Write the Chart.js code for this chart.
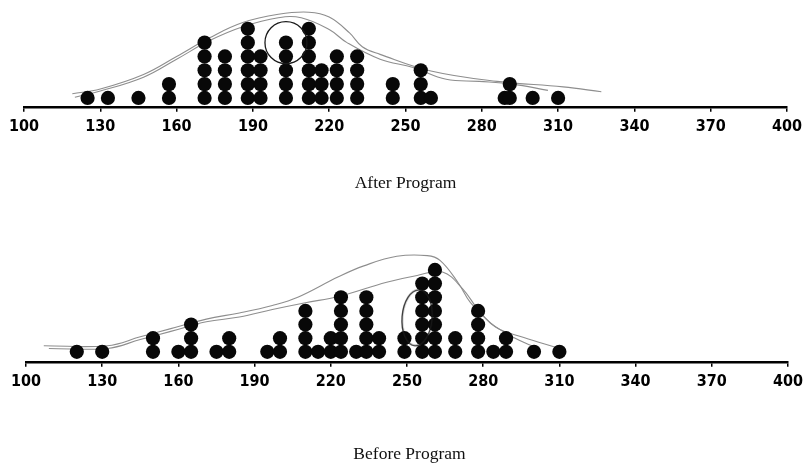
<!DOCTYPE html>
<html>
<head>
<meta charset="utf-8">
<script src="https://cdn.jsdelivr.net/npm/chart.js@4.4.1/dist/chart.umd.min.js"></script>
<style>
  html, body { margin: 0; padding: 0; background: #fff; }
  .panel { position: absolute; left: 0; width: 808px; }
  #topPanel { top: 0; height: 235px; }
  #bottomPanel { top: 235px; height: 232px; }
</style>
</head>
<body>
<div class="panel" id="topPanel"><canvas id="afterChart"></canvas></div>
<div class="panel" id="bottomPanel"><canvas id="beforeChart"></canvas></div>
<script>
const tickLabels = [100, 130, 160, 190, 220, 250, 280, 310, 340, 370, 400];

// one entry per student, repeated scores stack up
const afterScores = [
  125, 133, 145, 157, 157,
  171, 171, 171, 171, 171,
  179, 179, 179, 179,
  188, 188, 188, 188, 188, 188,
  193, 193, 193, 193,
  203, 203, 203, 203, 203,
  212, 212, 212, 212, 212, 212,
  217, 217, 217,
  223, 223, 223, 223,
  231, 231, 231, 231,
  245, 245,
  256, 256, 256, 260,
  289, 291, 291, 300, 310
];

const beforeScores = [
  120, 130, 150, 150, 160, 165, 165, 165,
  175, 180, 180, 195, 200, 200,
  210, 210, 210, 210, 215,
  220, 220, 224, 224, 224, 224, 224, 230,
  234, 234, 234, 234, 234, 239, 239,
  249, 249,
  256, 256, 256, 256, 256, 256,
  261, 261, 261, 261, 261, 261, 261,
  269, 269, 278, 278, 278, 278, 284, 289, 289, 300, 310
];

// hand drawn outlines, read as [score, stack height]
const afterOuterCurve = [
  [119, 0.3], [130, 0.65], [147, 1.7], [160, 3.0], [173, 4.35], [186, 5.45],
  [200, 6.05], [212, 6.2], [220, 5.85], [228, 4.7], [233, 3.7], [240, 3.15],
  [260, 1.95], [286, 1.2], [312, 0.8], [327, 0.45]
];
const afterInnerCurve = [
  [120, 0.05], [130, 0.5], [147, 1.5], [160, 2.8], [173, 4.15], [186, 5.15],
  [200, 5.8], [209, 5.8], [220, 4.95], [227, 4.0], [240, 2.8], [253, 2.2],
  [266, 1.35], [279, 1.2], [292, 1.0], [306, 0.55]
];
const beforeOuterCurve = [
  [107, 0.45], [132, 0.45], [145, 1.1], [157, 1.7], [171, 2.4], [184, 2.85],
  [197, 3.4], [207, 4.0], [223, 5.5], [233, 6.3], [246, 7.0], [258, 7.05],
  [263, 6.7], [270, 5.1], [275, 3.6], [283, 2.1], [292, 1.05], [301, 0.3]
];
const beforeInnerCurve = [
  [109, 0.25], [132, 0.25], [145, 0.9], [157, 1.5], [171, 2.2], [184, 2.55],
  [197, 3.1], [210, 3.6], [223, 4.05], [242, 5.1], [254, 5.6], [264, 5.85],
  [272, 4.6], [278, 3.1], [285, 1.8], [296, 1.05], [309, 0.3]
];

const afterCircledScore = 203;
const beforeOval = [254, 2.5];

function stack(scores) {
  const seen = {};
  return scores.map(v => {
    const k = seen[v] || 0;
    seen[v] = k + 1;
    return { x: v, y: k };
  });
}

function curveSet(pts) {
  return {
    type: 'line',
    data: pts.map(p => ({ x: p[0], y: p[1] })),
    borderColor: '#8e8e8e',
    borderWidth: 1.1,
    pointRadius: 0,
    tension: 0.4,
    fill: false,
    order: 2
  };
}

function ovalImage(w, h) {
  const c = document.createElement('canvas');
  c.width = w + 4;
  c.height = h + 4;
  const g = c.getContext('2d');
  g.strokeStyle = '#1a1a1a';
  g.lineWidth = 1.3;
  g.beginPath();
  g.ellipse(c.width / 2, c.height / 2, w / 2, h / 2, 0.08, 0, Math.PI * 2);
  g.stroke();
  return c;
}

function makeChart(id, opts) {
  const dots = stack(opts.scores);
  return new Chart(document.getElementById(id), {
    type: 'scatter',
    data: {
      datasets: [
        {
          data: dots,
          backgroundColor: '#080808',
          borderWidth: 0,
          pointRadius: 7.1,
          order: 1
        },
        ...opts.curves.map(curveSet),
        opts.mark
      ]
    },
    options: {
      responsive: true,
      maintainAspectRatio: false,
      animation: false,
      events: [],
      layout: { autoPadding: false, padding: opts.padding },
      plugins: {
        legend: { display: false },
        tooltip: { enabled: false },
        title: {
          display: true,
          position: 'bottom',
          text: opts.title,
          color: '#111',
          font: { family: "'Liberation Serif', 'Times New Roman', serif", size: 17.5, weight: 'normal' },
          padding: opts.titlePad
        }
      },
      scales: {
        x: {
          type: 'linear',
          min: 100,
          max: 400,
          afterBuildTicks: s => { s.ticks = tickLabels.map(v => ({ value: v })); },
          grid: { drawOnChartArea: false, drawTicks: true, tickLength: 5, color: '#000', lineWidth: 1.5 },
          border: { display: true, color: '#000', width: 2.5 },
          ticks: {
            color: '#000',
            padding: 5,
            maxRotation: 0,
            autoSkip: false,
            font: { family: "'Liberation Sans Narrow', 'Arial Narrow', 'DejaVu Sans Condensed', sans-serif", size: 16, weight: 'bold' }
          }
        },
        y: { display: false, min: opts.yMin, max: opts.yMax }
      }
    }
  });
}

const afterTop = stack(afterScores).filter(d => d.x === afterCircledScore).pop();

makeChart('afterChart', {
  scores: afterScores,
  curves: [afterOuterCurve, afterInnerCurve],
  mark: {
    data: [{ x: afterTop.x, y: afterTop.y }],
    pointRadius: 21,
    backgroundColor: 'rgba(0,0,0,0)',
    borderColor: '#1a1a1a',
    borderWidth: 1.3,
    order: 0
  },
  title: 'After Program',
  titlePad: { top: 32, bottom: 41 },
  padding: { top: 10, left: 24, right: 21, bottom: 0 },
  yMin: -0.64,
  yMax: 6.36
});

makeChart('beforeChart', {
  scores: beforeScores,
  curves: [beforeOuterCurve, beforeInnerCurve],
  mark: {
    data: [{ x: beforeOval[0], y: beforeOval[1] }],
    pointStyle: ovalImage(30, 56),
    pointRadius: 20,
    order: 0
  },
  title: 'Before Program',
  titlePad: { top: 48, bottom: 2 },
  padding: { top: 10, left: 26, right: 15, bottom: 0 },
  yMin: -0.73,
  yMax: 7.83
});
</script>
</body>
</html>
